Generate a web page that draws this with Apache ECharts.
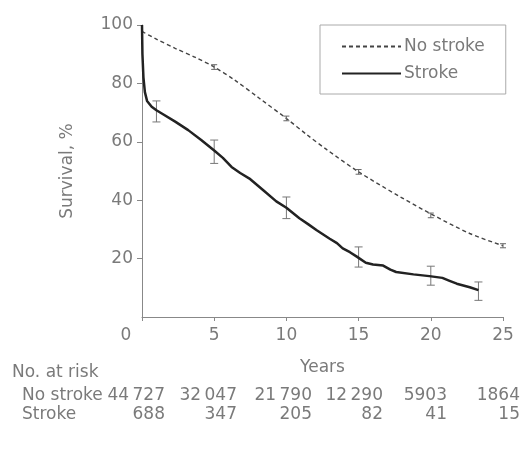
<!DOCTYPE html>
<html>
<head>
<meta charset="utf-8">
<script src="https://cdn.jsdelivr.net/npm/echarts@6/dist/echarts.min.js"></script>
<style>html,body{margin:0;padding:0;background:#fff;}#c{width:529px;height:455px;}</style>
</head>
<body>
<div id="c"></div>
<script>
// ---- data ----
const xTicks = [0, 5, 10, 15, 20, 25];
const yTicks = [20, 40, 60, 80, 100];
const seriesNames = ['No stroke', 'Stroke'];
const noStrokeCurve = [
  [0, 97.8], [0.9, 95.4], [2.3, 92.0], [3.7, 88.9], [5, 85.6], [6.4, 81.2],
  [8.1, 75.0], [10, 68.0], [11.4, 62.5], [12.8, 57.3], [15, 49.7], [17.9, 41.1],
  [20.2, 34.8], [22.7, 28.6], [25, 24.4]
];
const strokeCurve = [
  [0, 100], [0.03, 90], [0.1, 82], [0.2, 77], [0.35, 74], [0.67, 72], [1.0, 70.8],
  [1.4, 69.6], [2.3, 66.9], [3.2, 64.0], [4.1, 60.6], [5.0, 57.0], [5.6, 54.5],
  [6.2, 51.4], [6.8, 49.3], [7.5, 47.2], [8.4, 43.4], [9.3, 39.6], [10.0, 37.4],
  [10.9, 33.8], [11.5, 31.8], [12.1, 29.7], [13.0, 26.8], [13.5, 25.3], [13.9, 23.5],
  [14.4, 22.2], [14.9, 20.6], [15.5, 18.6], [16.0, 18.0], [16.7, 17.6], [17.2, 16.2],
  [17.6, 15.4], [18.8, 14.6], [19.9, 14.0], [20.8, 13.4], [21.3, 12.4], [21.8, 11.4],
  [22.7, 10.2], [23.3, 9.2]
];
// [year, lower, upper]
const strokeCI = [[1, 66.8, 74.0], [5, 52.6, 60.6], [10, 33.7, 41.1], [15, 17.1, 24.0], [20, 10.9, 17.4], [23.3, 5.7, 12.0]];
const noStrokeCI = [[5, 84.8, 86.4], [10, 67.2, 68.8], [15, 48.9, 50.5], [20, 34.0, 35.6], [25, 23.7, 25.1]];
const riskTitle = 'No. at risk';
const riskNoStroke = ['44\u2009727', '32\u2009047', '21\u2009790', '12\u2009290', '5903', '1864'];
const riskStroke = ['688', '347', '205', '82', '41', '15'];

// ---- layout / style ----
const FONT = 'DejaVu Sans';
const FW = 'normal';
const TXT = '#7a7a7a';
const FS = 17;
const riskRight = [165, 237, 312, 383, 447, 520];
const FSTR = FW + ' ' + FS + 'px "' + FONT + '"';

const chart = echarts.init(document.getElementById('c'), null, {renderer: 'canvas'});

function ciSeries(name, data, half, color) {
  return {
    type: 'custom', name: name, data: data, z: 3, silent: true,
    renderItem: function (params, api) {
      const x = api.value(0);
      const lo = api.coord([x, api.value(1)]);
      const hi = api.coord([x, api.value(2)]);
      const st = {stroke: color, lineWidth: 1};
      return {type: 'group', children: [
        {type: 'line', shape: {x1: lo[0], y1: lo[1], x2: hi[0], y2: hi[1]}, style: st},
        {type: 'line', shape: {x1: lo[0] - half, y1: lo[1], x2: lo[0] + half, y2: lo[1]}, style: st},
        {type: 'line', shape: {x1: hi[0] - half, y1: hi[1], x2: hi[0] + half, y2: hi[1]}, style: st}
      ]};
    }
  };
}

const graphics = [{type: 'text', left: 12, top: 364, style: {text: riskTitle, font: FSTR, fill: TXT}},
  {type: 'text', left: 22, top: 387, style: {text: seriesNames[0], font: FSTR, fill: TXT}},
  {type: 'text', left: 22, top: 406, style: {text: seriesNames[1], font: FSTR, fill: TXT}}];
riskNoStroke.forEach(function (t, i) {
  graphics.push({type: 'text', x: riskRight[i], y: 387, style: {text: t, font: FSTR, fill: TXT, align: 'right', verticalAlign: 'top'}});
});
riskStroke.forEach(function (t, i) {
  graphics.push({type: 'text', x: riskRight[i], y: 406, style: {text: t, font: FSTR, fill: TXT, align: 'right', verticalAlign: 'top'}});
});

const ts = {fontFamily: FONT, fontSize: FS, fontWeight: FW, color: TXT};

chart.setOption({
  animation: false,
  backgroundColor: '#fff',
  textStyle: {fontFamily: FONT, fontWeight: FW},
  grid: {left: 142, right: 26, top: 25, bottom: 138},
  legend: {
    data: seriesNames, orient: 'vertical', left: 320, top: 25,
    padding: [13, 21, 12, 21], itemWidth: 59, itemHeight: 14, itemGap: 10,
    borderColor: '#aaa', borderWidth: 1, borderRadius: 0,
    itemStyle: {color: 'rgba(0,0,0,0)', borderColor: 'rgba(0,0,0,0)', borderWidth: 0, opacity: 0},
    textStyle: Object.assign({padding: [0, 0, 0, -2]}, ts)
  },
  xAxis: {
    type: 'value', min: 0, max: 25, interval: 5,
    name: 'Years', nameLocation: 'middle', nameGap: 42,
    nameTextStyle: ts,
    axisLine: {lineStyle: {color: '#888', width: 1}},
    axisTick: {show: true, length: 4, lineStyle: {color: '#888'}},
    splitLine: {show: false},
    axisLabel: Object.assign({
      margin: 10,
      formatter: function (v) { return v === 0 ? '{z|0}' : String(v); },
      rich: {z: Object.assign({padding: [0, 32, 0, 0]}, ts)}
    }, ts)
  },
  yAxis: {
    type: 'value', min: 0, max: 100, interval: 20,
    name: 'Survival, %', nameLocation: 'middle', nameGap: 66,
    nameTextStyle: ts,
    axisLine: {show: true, lineStyle: {color: '#888', width: 1}},
    axisTick: {show: true, length: 5, lineStyle: {color: '#888'}},
    splitLine: {show: false},
    axisLabel: Object.assign({margin: 9, showMinLabel: false,
      formatter: function (v) { return yTicks.indexOf(v) >= 0 ? String(v) : ''; }}, ts)
  },
  series: [
    {name: seriesNames[0], type: 'line', data: noStrokeCurve, symbol: 'none', smooth: 0.3,
      lineStyle: {color: '#444', width: 1.4, type: [4, 3]}, itemStyle: {color: '#444'}, z: 2},
    {name: seriesNames[1], type: 'line', data: strokeCurve, symbol: 'none',
      lineStyle: {color: '#222', width: 2.5}, itemStyle: {color: '#222'}, z: 4},
    ciSeries('ci-no', noStrokeCI, 3, '#666'),
    ciSeries('ci-st', strokeCI, 4, '#777')
  ],
  graphic: graphics
});
</script>
</body>
</html>
